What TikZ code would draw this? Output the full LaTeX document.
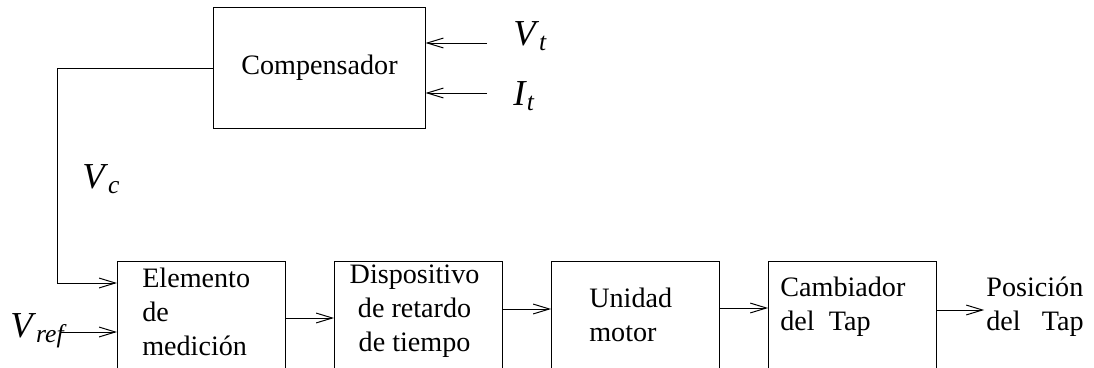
\documentclass[tikz,border=0pt]{standalone}
\usepackage{fontspec}
\setmainfont{Liberation Serif}
\usepackage{tikz}
\usetikzlibrary{positioning, arrows.meta}
\newcommand{\sig}[2]{\textit{#1}\textsubscript{\textit{#2}}}

\begin{document}
\begin{tikzpicture}[
  x=0.025cm, y=-0.025cm,
  node distance=1.2cm,
  every node/.style={font=\fontsize{20}{24}\selectfont},
  block/.style={draw, line width=0.7pt, minimum width=4.2cm, minimum height=3.25cm, inner sep=0pt},
  txt/.style={inner sep=0pt, align=left, anchor=north west},
  sig/.style={inner sep=0pt, anchor=base west, font=\fontsize{26}{30}\selectfont},
  arr/.style={line width=0.7pt, -{Straight Barb[length=11.5pt, width=7pt]}},
]
  \clip (0,0) rectangle (1094,368);

  % Compensador and its inputs
  \node[block, minimum width=5.275cm, minimum height=3cm] (comp) at (319.5,68) {Compensador};
  \node[sig] (vt) at (513,45) {\sig{V}{t}};
  \node[sig] (it) at (513,105) {\sig{I}{t}};
  \coordinate (vtin) at (487,43);
  \coordinate (itin) at (487,93);
  \draw[arr] (vtin) -- (comp.east |- vtin);
  \draw[arr] (itin) -- (comp.east |- itin);
  \node[sig] (vc) at (82,188) {\sig{V}{c}};

  % Main chain (boxes run past the lower edge)
  \node[block, anchor=north west] (elem) at (117,261) {};
  \node[block, right=of elem] (disp) {};
  \node[block, right=of disp] (unid) {};
  \node[block, right=of unid] (camb) {};

  \node[txt] (elemtxt) at ([shift={(25,7)}]elem.north west) {Elemento\\de\\medición};
  \node[txt, anchor=north, align=center] (disptxt) at ([shift={(-4,4)}]disp.north) {Dispositivo\\de retardo\\de tiempo};
  \node[txt] (unidtxt) at ([shift={(38,27)}]unid.north west) {Unidad\\motor};
  \node[txt] (cambtxt) at ([shift={(12,16)}]camb.north west) {Cambiador\\del\ \ Tap};

  % Connections
  \draw[arr] (comp.west) -- ++(-156,0) |- ([shift={(0,22)}]elem.north west);
  \node[sig] (vref) at (10,337) {\sig{V}{ref}};
  \coordinate (vrefin) at (60,332);
  \draw[arr] (vrefin) -- (elem.west |- vrefin);
  \draw[arr] ([shift={(0,57)}]elem.north east) -- ([shift={(0,57)}]disp.north west);
  \draw[arr] ([shift={(0,48)}]disp.north east) -- ([shift={(0,48)}]unid.north west);
  \draw[arr] ([shift={(0,47)}]unid.north east) -- ([shift={(0,47)}]camb.north west);
  \coordinate (out) at ([shift={(47,49)}]camb.north east);
  \draw[arr] ([shift={(0,49)}]camb.north east) -- (out);
  \node[txt] (postxt) at ([shift={(2,-33)}]out) {Posición\\del\ \ \ Tap};
\end{tikzpicture}
\end{document}
